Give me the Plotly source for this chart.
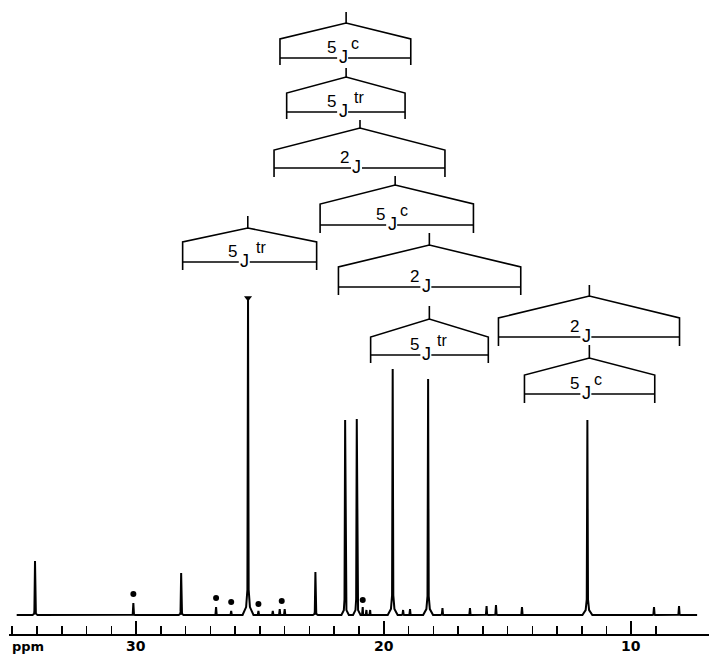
import plotly.graph_objects as go

# ---------------- data ----------------
peak_ppm = [34.08, 30.11, 28.18, 26.77, 26.16, 25.48, 25.06, 24.48, 24.20, 24.00,
            22.76, 21.56, 21.09, 20.85, 20.70, 20.55, 19.64, 19.22, 18.94, 18.21,
            17.63, 16.52, 15.85, 15.47, 14.42, 11.78, 9.09, 8.08]
peak_height = [54, 12, 42, 8, 4, 318, 4, 4, 6, 6,
               43, 195, 196, 8, 5, 5, 246, 5, 6, 236,
               7, 7, 9, 10, 8, 195, 8, 9]
peak_base_width = [0.10, 0.07, 0.10, 0.07, 0.07, 0.22, 0.07, 0.07, 0.07, 0.07,
                   0.10, 0.15, 0.15, 0.05, 0.05, 0.05, 0.20, 0.07, 0.07, 0.20,
                   0.07, 0.07, 0.07, 0.07, 0.07, 0.20, 0.07, 0.07]
spectrum_start, spectrum_end = 34.82, 7.35

dot_ppm = [30.11, 26.77, 26.16, 25.06, 24.12, 20.85]
dot_height = [21, 17, 13, 11, 14, 15]

# coupling brackets (top to bottom)
bracket_center = [21.52, 21.52, 20.96, 19.54, 25.49, 18.16, 18.16, 11.70, 11.70]
bracket_left = [24.19, 23.92, 24.43, 22.57, 28.12, 21.83, 20.53, 15.37, 14.32]
bracket_right = [18.91, 19.14, 17.53, 16.38, 22.71, 14.47, 15.78, 8.06, 9.06]
stem_top = [603, 547, 495, 439, 399, 382, 309, 330, 270]
vertex = [592, 538, 487, 430, 387, 370, 296, 319, 257]
shoulder = [576, 522, 465, 411, 373, 348, 278, 297, 240]
leg_bottom = [550, 496, 438, 382, 345, 320, 252, 269, 212]
bar_level = [557, 503, 447, 390, 353, 328, 260, 278, 221]
coupling_order = ["5", "5", "2", "5", "5", "2", "5", "2", "5"]
coupling_type = ["c", "tr", "", "c", "tr", "", "tr", "", "c"]

tick_major = [30, 20, 10]
tick_labels = ["30", "20", "10"]
tick_minor = list(range(9, 36))
axis_title = "ppm"

# ---------------- figure ----------------
X_LEFT, X_RIGHT = 35.13, 6.87
PX = (X_LEFT - X_RIGHT) / 700.0   # ppm per pixel

sx, sy = [spectrum_start], [0]
for p, h, w in zip(peak_ppm, peak_height, peak_base_width):
    sx += [p + w, p + 0.35 * w, p + 0.025, p, p - 0.025, p - 0.35 * w, p - w]
    sy += [0, 0.025 * h, 0.08 * h, h, 0.08 * h, 0.025 * h, 0]
sx.append(spectrum_end)
sy.append(0)

fig = go.Figure()
fig.add_trace(go.Scatter(x=sx, y=sy, mode="lines",
                         line=dict(color="black", width=2), hoverinfo="skip"))
fig.add_trace(go.Scatter(x=dot_ppm, y=dot_height, mode="markers",
                         marker=dict(color="black", size=6), hoverinfo="skip"))
tall = peak_height.index(max(peak_height))
fig.add_trace(go.Scatter(x=[peak_ppm[tall]], y=[peak_height[tall] - 1], mode="markers",
                         marker=dict(color="black", size=7, symbol="triangle-down"),
                         hoverinfo="skip"))

bx, by = [], []
annotations = []
lab_font = dict(family="Liberation Sans, Arial, sans-serif", color="black")
for i in range(len(bracket_center)):
    c, l, r = bracket_center[i], bracket_left[i], bracket_right[i]
    bx += [c, c, None]
    by += [stem_top[i], vertex[i], None]
    bx += [l, l, c, r, r, None]
    by += [leg_bottom[i], shoulder[i], vertex[i], shoulder[i], leg_bottom[i], None]
    bx += [l, c + 9 * PX, None, c - 2 * PX, r, None]
    by += [bar_level[i], bar_level[i], None, bar_level[i], bar_level[i], None]
    annotations.append(dict(x=c, y=bar_level[i], xref="x", yref="y", text=coupling_order[i],
                            showarrow=False, xshift=-15, yshift=11,
                            font=dict(size=17, **lab_font)))
    annotations.append(dict(x=c, y=bar_level[i], xref="x", yref="y", text="J",
                            showarrow=False, xshift=-3, yshift=1,
                            font=dict(size=18, **lab_font)))
    if coupling_type[i]:
        annotations.append(dict(x=c, y=bar_level[i], xref="x", yref="y", text=coupling_type[i],
                                showarrow=False, xshift=9 if coupling_type[i] == "c" else 13,
                                yshift=15, font=dict(size=16, **lab_font)))

fig.add_trace(go.Scatter(x=bx, y=by, mode="lines",
                         line=dict(color="black", width=1.6), hoverinfo="skip"))

for v, t in zip(tick_major, tick_labels):
    annotations.append(dict(x=v, y=0, xref="x", yref="paper", text="<b>%s</b>" % t,
                            showarrow=False, yanchor="middle", yshift=-12,
                            font=dict(family="DejaVu Sans", size=14, color="black")))
annotations.append(dict(x=1 / 700, y=0, xref="paper", yref="paper", text="<b>%s</b>" % axis_title,
                        showarrow=False, xanchor="left", yanchor="middle", yshift=-12,
                        font=dict(family="DejaVu Sans", size=13, color="black")))

fig.update_layout(
    width=709, height=656,
    margin=dict(l=9, r=0, t=0, b=22),
    paper_bgcolor="white", plot_bgcolor="white",
    showlegend=False,
    annotations=annotations,
    xaxis=dict(range=[X_LEFT, X_RIGHT], showline=True, linewidth=2, linecolor="black",
               showgrid=False, zeroline=False, showticklabels=False,
               tickvals=tick_major,
               ticks="inside", ticklen=13, tickwidth=2, tickcolor="black",
               minor=dict(tickvals=tick_minor, ticks="inside", ticklen=8, tickwidth=1.5,
                          tickcolor="black", showgrid=False)),
    yaxis=dict(range=[-19, 615], visible=False, fixedrange=True),
)

fig.write_html("out.html", config={"displayModeBar": False, "staticPlot": True},
               post_script="document.body.style.margin='0';document.body.style.overflow='hidden';")
